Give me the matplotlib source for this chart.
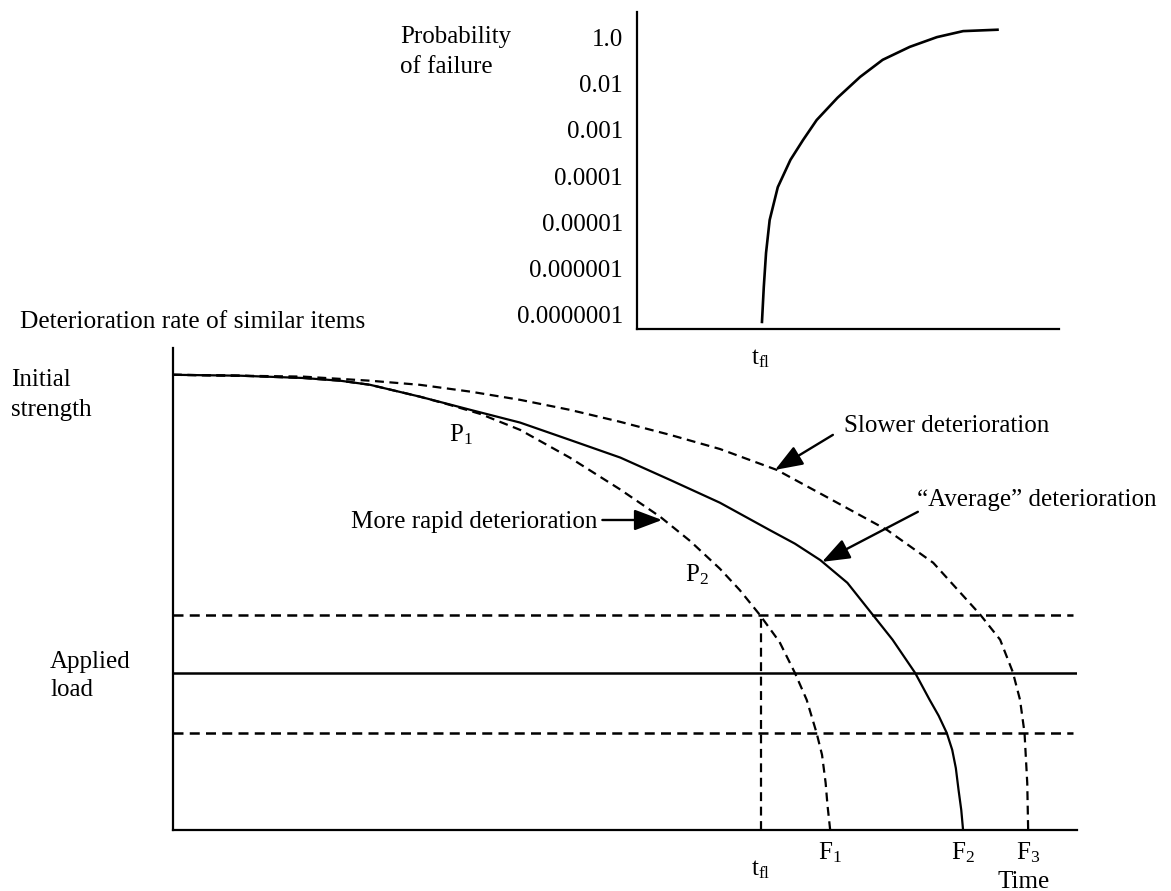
import matplotlib.pyplot as plt
import numpy as np

# --- FONTES (parecido com Times) ---
plt.rcParams['font.family'] = 'Liberation Serif'
plt.rcParams['mathtext.fontset'] = 'custom'
plt.rcParams['mathtext.rm'] = 'Liberation Serif'
plt.rcParams['mathtext.it'] = 'Liberation Serif:italic'

# --- DADOS ---
# curva "media" (linha cheia)
tempo_medio = [0.00, 0.74, 1.44, 1.85, 2.18, 2.73, 3.29, 3.84, 4.39, 4.95, 5.50,
               6.05, 6.60, 6.88, 7.16, 7.46, 7.74, 7.96, 8.21, 8.37, 8.47, 8.56,
               8.62, 8.66, 8.69, 8.72, 8.74]
resist_medio = [10.00, 9.98, 9.93, 9.87, 9.78, 9.52, 9.23, 8.95, 8.57, 8.18, 7.69,
                7.19, 6.59, 6.29, 5.93, 5.43, 4.73, 4.18, 3.45, 2.86, 2.51, 2.13,
                1.76, 1.36, 0.88, 0.44, 0.00]

# deterioracao mais rapida (tracejado)
tempo_rapido = [0.00, 0.74, 1.44, 1.85, 2.18, 2.73, 3.06, 3.40, 3.84, 4.39, 4.94,
                5.39, 5.72, 6.05, 6.27, 6.49, 6.71, 6.88, 7.01, 7.12, 7.18, 7.22,
                7.24, 7.27]
resist_rapido = [10.00, 9.98, 9.93, 9.87, 9.78, 9.52, 9.34, 9.14, 8.79, 8.18, 7.49,
                 6.88, 6.35, 5.74, 5.27, 4.73, 4.13, 3.45, 2.86, 2.13, 1.65, 1.03,
                 0.55, 0.00]

# deterioracao mais lenta (tracejado)
tempo_lento = [0.00, 0.74, 1.44, 1.85, 2.18, 2.73, 3.29, 3.84, 4.39, 4.94, 5.50,
               6.05, 6.68, 7.19, 7.90, 8.41, 8.93, 9.15, 9.29, 9.37, 9.42, 9.45, 9.46]
resist_lento = [10.00, 9.98, 9.96, 9.91, 9.87, 9.78, 9.63, 9.45, 9.23, 8.97, 8.68,
                8.37, 7.91, 7.36, 6.59, 5.87, 4.73, 4.18, 3.47, 2.86, 2.13, 1.03, 0.00]

carga = 3.45
carga_sup = 4.73
carga_inf = 2.13
t_fl = 6.50
pontos_F = [7.27, 8.74, 9.46]
nomes_F = [r'$\mathrm{F_1}$', r'$\mathrm{F_2}$', r'$\mathrm{F_3}$']

# grafico pequeno: probabilidade de falha
prob_labels = ['0.0000001', '0.000001', '0.00001', '0.0001', '0.001', '0.01', '1.0']
prob_tempo = [6.515, 6.535, 6.56, 6.60, 6.69, 6.83, 6.97, 7.12, 7.35, 7.60, 7.85,
              8.15, 8.45, 8.74, 9.12]
prob_nivel = [-0.15, 0.60, 1.34, 2.05, 2.76, 3.35, 3.78, 4.21, 4.69, 5.14, 5.51,
              5.79, 6.00, 6.13, 6.16]

FS = 18
preto = 'black'
tracejado = (4, 2.5)

fig = plt.figure(figsize=(11.71, 8.91), dpi=100)

# --- EIXO PRINCIPAL ---
ax = fig.add_axes([0.1477, 0.0685, 0.772, 0.541])
ax.set_xlim(0, 10)
ax.set_ylim(0, 10.59)
for s in ['top', 'right']:
    ax.spines[s].set_visible(False)
for s in ['left', 'bottom']:
    ax.spines[s].set_linewidth(1.6)
ax.set_xticks([])
ax.set_yticks([])

ax.plot(tempo_medio, resist_medio, color=preto, lw=1.6)
ax.plot(tempo_rapido, resist_rapido, color=preto, lw=1.6, dashes=tracejado)
ax.plot(tempo_lento, resist_lento, color=preto, lw=1.6, dashes=tracejado)

ax.axhline(carga, xmin=0, xmax=1.0, color=preto, lw=1.8)
ax.axhline(carga_sup, xmin=0, xmax=0.996, color=preto, lw=1.8, dashes=tracejado)
ax.axhline(carga_inf, xmin=0, xmax=0.996, color=preto, lw=1.8, dashes=tracejado)
ax.vlines(t_fl, 0, carga_sup, color=preto, lw=1.6, linestyles=[(0, tracejado)])

# rotulos no eixo do tempo
ax.text(t_fl, -0.88, r'$\mathrm{t_{fl}}$', fontsize=FS, ha='center', va='center')
for xf, nome in zip(pontos_F, nomes_F):
    ax.text(xf, -0.5, nome, fontsize=FS, ha='center', va='center')
ax.text(9.41, -1.15, 'Time', fontsize=FS, ha='center', va='center')

# textos da esquerda
ax.text(-1.69, 11.16, 'Deterioration rate of similar items', fontsize=18.3, ha='left', va='center')
ax.text(-1.79, 9.89, 'Initial', fontsize=FS, ha='left', va='center')
ax.text(-1.79, 9.23, 'strength', fontsize=FS, ha='left', va='center')
ax.text(-1.36, 3.68, 'Applied', fontsize=FS, ha='left', va='center')
ax.text(-1.36, 3.08, 'load', fontsize=FS, ha='left', va='center')

ax.text(3.19, 8.68, r'$\mathrm{P_1}$', fontsize=FS, ha='center', va='center')
ax.text(5.80, 5.60, r'$\mathrm{P_2}$', fontsize=FS, ha='center', va='center')

# setas com legendas
seta = dict(arrowstyle='-|>,head_length=0.85,head_width=0.32', color=preto, lw=1.7,
            shrinkA=0, shrinkB=0, mutation_scale=20)
ax.text(4.69, 6.77, 'More rapid deterioration', fontsize=FS, ha='right', va='center')
ax.annotate('', xy=(5.41, 6.81), xytext=(4.75, 6.81), arrowprops=seta)
ax.text(7.42, 8.88, 'Slower deterioration', fontsize=FS, ha='left', va='center')
ax.annotate('', xy=(6.66, 7.91), xytext=(7.30, 8.68), arrowprops=seta)
ax.text(8.23, 7.25, '\u201cAverage\u201d deterioration', fontsize=FS, ha='left', va='center')
ax.annotate('', xy=(7.18, 5.89), xytext=(8.24, 6.99), arrowprops=seta)

# --- GRAFICO PEQUENO (probabilidade) ---
ax2 = fig.add_axes([0.544, 0.6308, 0.3604, 0.3558])
ax2.set_xlim(5.133, 9.801)
ax2.set_ylim(-0.302, 6.544)
for s in ['top', 'right']:
    ax2.spines[s].set_visible(False)
for s in ['left', 'bottom']:
    ax2.spines[s].set_linewidth(1.6)
ax2.set_xticks([])
ax2.set_yticks(range(len(prob_labels)))
ax2.set_yticklabels(prob_labels, fontsize=FS)
ax2.tick_params(axis='y', length=0, pad=10)
ax2.plot(prob_tempo, prob_nivel, color=preto, lw=1.9)
ax2.text(t_fl, -0.95, r'$\mathrm{t_{fl}}$', fontsize=FS, ha='center', va='center')
ax2.text(-0.5616, 0.921, 'Probability', fontsize=FS, ha='left', va='center', transform=ax2.transAxes)
ax2.text(-0.5616, 0.826, 'of failure', fontsize=FS, ha='left', va='center', transform=ax2.transAxes)

fig.savefig('out.png', dpi=100)
